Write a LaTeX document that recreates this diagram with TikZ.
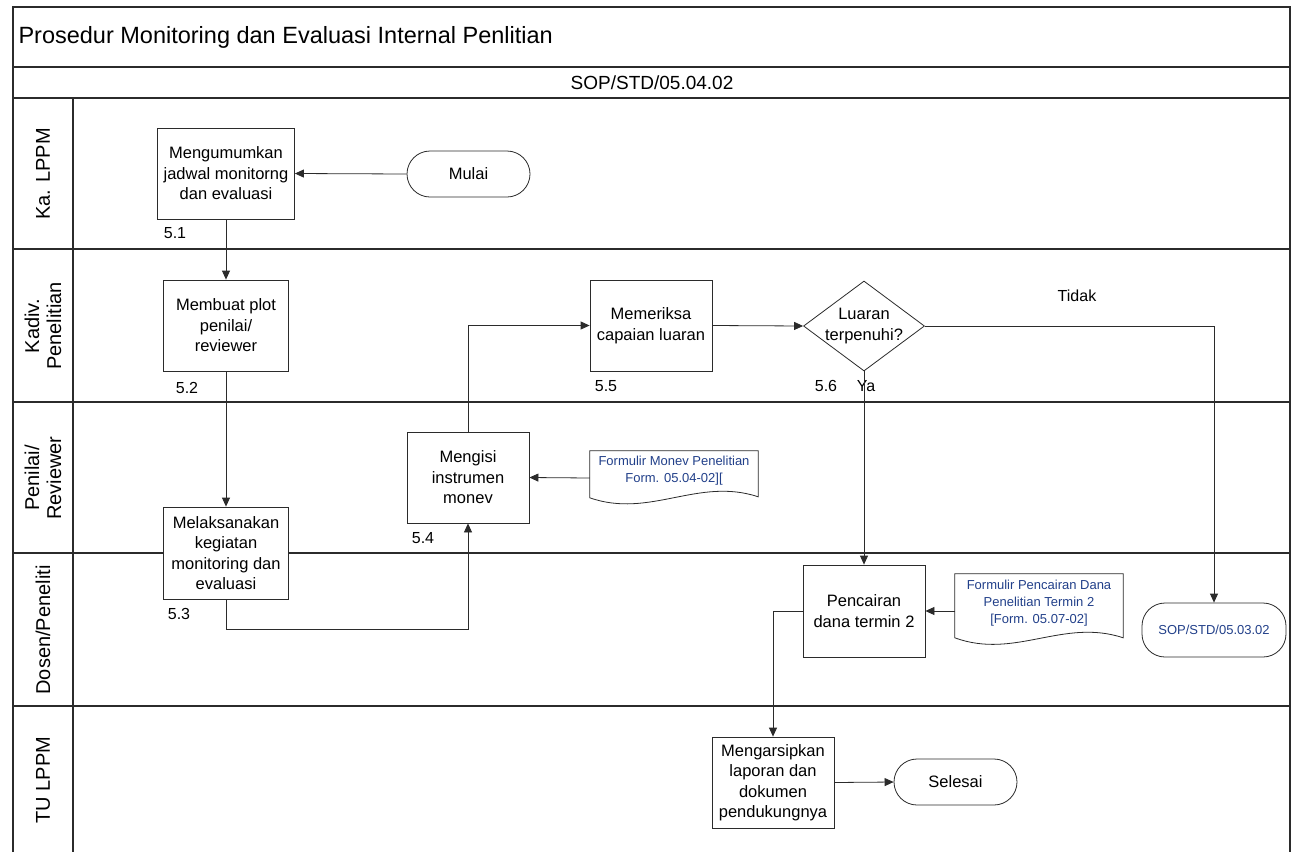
\documentclass[tikz,border=0pt]{standalone}
\usepackage{fontspec}
\setmainfont{Liberation Sans}
\usetikzlibrary{arrows.meta,shapes.geometric,calc}
\definecolor{doccol}{HTML}{22408A}
\definecolor{linecol}{HTML}{2B2B2B}
\newcommand\myfs[2]{\fontsize{#1}{#2}\selectfont}
\begin{document}
\begin{tikzpicture}[x=1pt,y=-1pt,
  frame/.style={draw=linecol,line width=1.3pt},
  proc/.style={draw=linecol,line width=0.8pt,fill=white,align=center,inner sep=1pt,font=\myfs{16.5}{20.5}},
  term/.style={draw=linecol,line width=0.8pt,fill=white,rounded corners=23pt,align=center,inner sep=1pt,font=\myfs{16.5}{20.5}},
  dec/.style={diamond,draw=linecol,line width=0.8pt,fill=white,inner sep=0pt,aspect=1.34},
  dectext/.style={align=center,font=\myfs{16.5}{20.5}},
  docbox/.style={inner sep=0pt,draw=none},
  doctext/.style={align=center,text=doccol,font=\myfs{13}{17}},
  shapeline/.style={draw=linecol,line width=0.8pt,fill=white},
  arr/.style={draw=linecol,line width=0.8pt,-{Triangle[length=9pt,width=8pt]}},
  num/.style={font=\myfs{16}{18}},
  lane/.style={rotate=90,align=center,font=\myfs{20}{22}}]
\fill[white] (0,0) rectangle (1293,852);
\useasboundingbox (0,0) rectangle (1293,852);
% frame
\draw[frame] (13,852) -- (13,7) -- (1290,7) -- (1290,852);
\draw[frame] (13,67) -- (1290,67);
\draw[frame] (13,98) -- (1290,98);
\draw[frame] (13,249) -- (1290,249);
\draw[frame] (13,402) -- (1290,402);
\draw[frame] (13,553) -- (1290,553);
\draw[frame] (13,706) -- (1290,706);
\draw[frame] (73,98) -- (73,852);
% headers
\node[anchor=west,font=\myfs{23.5}{26}] (title) at (15,37) {Prosedur Monitoring dan Evaluasi Internal Penlitian};
\node[font=\myfs{19}{21}] (sopcode) at (652,83) {SOP/STD/05.04.02};
% lane labels
\node[lane] (l1) at (43,174) {Ka. LPPM};
\node[lane] (l2) at (43,326) {Kadiv.\\Penelitian};
\node[lane] (l3) at (43,478) {Penilai/\\Reviewer};
\node[lane] (l4) at (43,630) {Dosen/Peneliti};
\node[lane] (l5) at (43,780) {TU LPPM};
% process nodes
\node[proc,minimum width=137,minimum height=91] (s51) at (226,173.5) {Mengumumkan\\jadwal monitorng\\dan evaluasi};
\node[term,minimum width=123,minimum height=46] (mulai) at (468.5,174) {Mulai};
\node[proc,minimum width=125,minimum height=91] (s52) at (226,325.5) {Membuat plot\\penilai/\\reviewer};
\node[proc,minimum width=125,minimum height=92] (s53) at (226,553) {Melaksanakan\\kegiatan\\monitoring dan\\evaluasi};
\node[proc,minimum width=122,minimum height=91] (s54) at (468,477.5) {Mengisi\\instrumen\\monev};
\node[proc,minimum width=122,minimum height=91] (s55) at (651,325.5) {Memeriksa\\capaian luaran};
\node[dec,minimum width=121,minimum height=90] (s56) at (864,326) {};
\node[dectext] (s56t) at (864,326) {Luaran\\terpenuhi?};
\node[proc,minimum width=122,minimum height=92] (s57) at (864,611) {Pencairan\\dana termin 2};
\node[proc,minimum width=122,minimum height=91] (s58) at (773,782.5) {Mengarsipkan\\laporan dan\\dokumen\\pendukungnya};
\node[term,minimum width=123,minimum height=46] (selesai) at (955.5,782) {Selesai};
\node[term,minimum width=144,minimum height=54,text=doccol,font=\myfs{13}{16}] (sopterm) at (1214,630) {SOP/STD/05.03.02};
% documents
\node[docbox,minimum width=168,minimum height=54] (doc1) at (674,478) {};
\draw[shapeline] (doc1.north west) -- (doc1.north east) -- ($(doc1.north east)+(0,46)$)
  .. controls ($(doc1.north east)+(-60,26)$) and ($(doc1.north west)+(60,68)$) .. ($(doc1.north west)+(0,47)$) -- cycle;
\node[doctext] (doc1t) at (674,471) {Formulir Monev Penelitian\\Form. 05.04-02][};
\node[docbox,minimum width=168,minimum height=74] (doc2) at (1039,611) {};
\draw[shapeline] (doc2.north west) -- (doc2.north east) -- ($(doc2.north east)+(0,64)$)
  .. controls ($(doc2.north east)+(-60,44)$) and ($(doc2.north west)+(60,86)$) .. ($(doc2.north west)+(0,64)$) -- cycle;
\node[doctext] (doc2t) at (1039,603) {Formulir Pencairan Dana\\Penelitian Termin 2\\{[}Form. 05.07-02{]}};
% numbers and labels
\node[num] (n51) at (175,233) {5.1};
\node[num] (n52) at (187,388) {5.2};
\node[num] (n53) at (179,614) {5.3};
\node[num] (n54) at (423,538) {5.4};
\node[num] (n55) at (606,386) {5.5};
\node[num] (n56) at (826,386) {5.6};
\node[num] (ya) at (866,386) {Ya};
\node[num] (tidak) at (1077,296) {Tidak};
% connectors
\draw[arr] (mulai.west) -- (s51.east);
\draw[arr] (s51.south) -- (s52.north);
\draw[arr] (s52.south) -- (s53.north);
\draw[arr] (s53.south) -- ++(0,30) -| (s54.south);
\draw[arr] (s54.north) |- (s55.west);
\draw[arr] (s55.east) -- (s56.west);
\draw[arr] (s56.south) -- (s57.north);
\draw[arr] (s56.east) -| (sopterm.north);
\draw[arr] (doc1.west) -- (s54.east);
\draw[arr] (doc2.west) -- (s57.east);
\draw[arr] (s57.west) -| (s58.north);
\draw[arr] (s58.east) -- (selesai.west);
\end{tikzpicture}
\end{document}
